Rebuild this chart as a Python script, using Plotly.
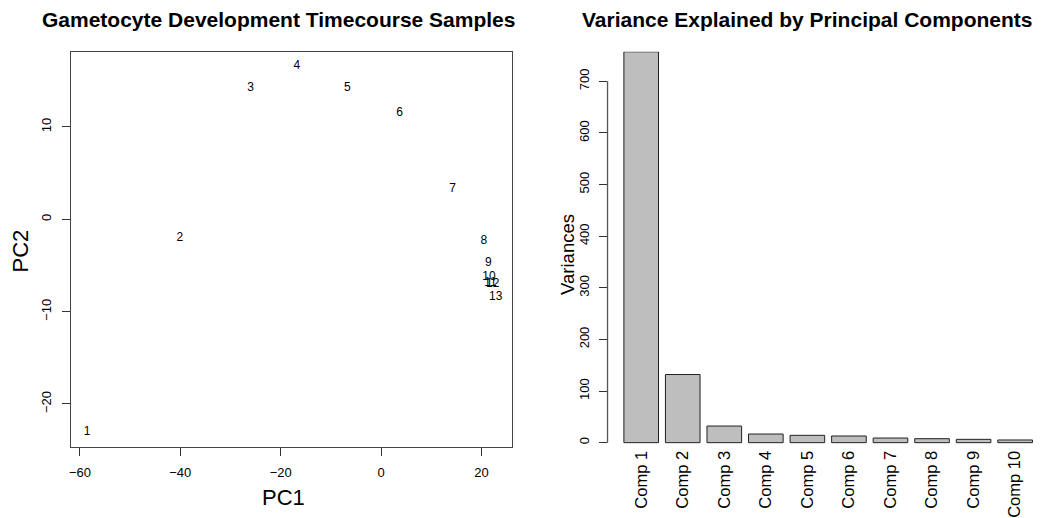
import plotly.graph_objects as go

# ---- data ----
sample_labels = ["1", "2", "3", "4", "5", "6", "7", "8", "9", "10", "11", "12", "13"]
pc1 = [-58.55, -40.1, -25.98, -16.77, -6.71, 3.69, 14.28, 20.46, 21.39, 21.5, 21.8, 22.25, 22.84]
pc2 = [-23.03, -2.05, 14.18, 16.56, 14.18, 11.52, 3.24, -2.34, -4.68, -6.3, -6.85, -7.0, -8.39]

components = ["Comp 1", "Comp 2", "Comp 3", "Comp 4", "Comp 5",
              "Comp 6", "Comp 7", "Comp 8", "Comp 9", "Comp 10"]
variances = [757.3, 132.0, 32.2, 16.7, 14.2, 12.9, 9.0, 7.7, 6.4, 5.2]

left_xticks = [-60, -40, -20, 0, 20]
left_yticks = [-20, -10, 0, 10]
right_yticks = [0, 100, 200, 300, 400, 500, 600, 700]

FONT = "Liberation Sans, Arial, Helvetica, sans-serif"
W, H = 1044, 518


def ext(vals, f=0.04):
    lo, hi = min(vals), max(vals)
    d = hi - lo
    return [lo - f * d, hi + f * d]


fig = go.Figure()

fig.add_trace(go.Scatter(
    x=pc1, y=pc2, text=sample_labels, mode="text",
    textposition="middle center",
    textfont=dict(family=FONT, size=12, color="black"),
    xaxis="x", yaxis="y", showlegend=False, hoverinfo="skip"))

fig.add_trace(go.Bar(
    x=components, y=variances,
    marker=dict(color="#BEBEBE", line=dict(color="#222222", width=1)),
    xaxis="x2", yaxis="y2", showlegend=False, width=1 / 1.2))

axis_common = dict(showgrid=False, zeroline=False,
                   tickfont=dict(family=FONT, size=13, color="black"))

ydom = [1 - 448.3 / H, 1 - 52 / H]

fig.update_layout(
    width=W, height=H,
    margin=dict(l=0, r=0, t=0, b=0),
    paper_bgcolor="white", plot_bgcolor="white",
    font=dict(family=FONT, color="black"),
    xaxis=dict(domain=[69 / W, 511 / W], range=ext(pc1), tickvals=left_xticks,
               ticks="outside", ticklen=8, tickcolor="#333", showline=True,
               mirror=True, linecolor="#444", linewidth=1.2,
               ticklabelstandoff=6, anchor="y", **axis_common),
    yaxis=dict(domain=ydom, range=ext(pc2), tickvals=left_yticks,
               ticks="outside", ticklen=8, tickcolor="#333", showline=True,
               mirror=True, linecolor="#444", linewidth=1.2, tickangle=-90,
               ticklabelstandoff=6, anchor="x", **axis_common),
    xaxis2=dict(domain=[606.7 / W, 1.0], range=[-0.81, 9.695], type="category",
                ticks="", showline=False, tickangle=-90, anchor="y2",
                showgrid=False, zeroline=False,
                tickfont=dict(family=FONT, size=16.5, color="black")),
    yaxis2=dict(domain=ydom, range=[-0.01 * max(variances), max(variances)],
                tickvals=right_yticks, ticks="outside", ticklen=8,
                tickcolor="#333", showline=False, tickangle=-90,
                ticklabelstandoff=4, anchor="x2", **axis_common),
    bargap=1 / 6,
)

# y axis line of bar chart spanning first to last tick (R style)
fig.add_shape(type="line", xref="x2 domain", yref="y2",
              x0=0, x1=0, y0=right_yticks[0], y1=right_yticks[-1],
              line=dict(color="#555", width=1.3))

# titles and axis labels
annots = [
    dict(text="<b>Gametocyte Development Timecourse Samples</b>", x=277 / W, y=1 - 20 / H,
         size=21, angle=0),
    dict(text="<b>Variance Explained by Principal Components</b>", x=807 / W, y=1 - 20 / H,
         size=21, angle=0),
    dict(text="PC1", x=282 / W, y=1 - 499 / H, size=22, angle=0),
    dict(text="PC2", x=18.5 / W, y=1 - 252 / H, size=22, angle=-90),
    dict(text="Variances", x=566 / W, y=1 - 255 / H, size=18.5, angle=-90),
]
for a in annots:
    fig.add_annotation(text=a["text"], x=a["x"], y=a["y"], xref="paper", yref="paper",
                       xanchor="center", yanchor="middle", showarrow=False,
                       textangle=a["angle"],
                       font=dict(family=FONT, size=a["size"], color="black"))

fig.write_html("out.html")
